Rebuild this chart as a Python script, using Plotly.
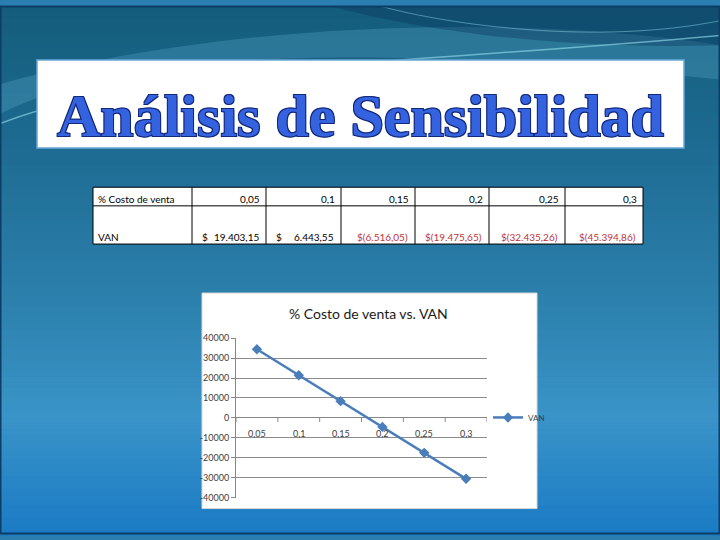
import plotly.graph_objects as go

# ---------------- data ----------------
costo_venta = ["0,05", "0,1", "0,15", "0,2", "0,25", "0,3"]
van_grafico = [34400, 21400, 8400, -4500, -17500, -30500]
van_tabla = ["$ 19.403,15", "$ 6.443,55", "$(6.516,05)", "$(19.475,65)", "$(32.435,26)", "$(45.394,86)"]
y_ticks = [40000, 30000, 20000, 10000, 0, -10000, -20000, -30000, -40000]

W, H = 720, 540


def px(x):
    return x / W


def py(y):
    return 1 - y / H


shapes = []
annotations = []

# ---------------- slide background (vertical gradient) ----------------
stops = [(0, (20, 92, 122)), (150, (30, 108, 148)), (300, (44, 128, 172)),
         (420, (58, 148, 200)), (540, (26, 122, 196))]


def col_at(y):
    for (y0, c0), (y1, c1) in zip(stops[:-1], stops[1:]):
        if y0 <= y <= y1:
            t = (y - y0) / (y1 - y0)
            return tuple(int(round(a + (b - a) * t)) for a, b in zip(c0, c1))
    return stops[-1][1]


step = 6
for y in range(0, H, step):
    c = col_at(y + step / 2)
    shapes.append(dict(type="rect", xref="paper", yref="paper", x0=0, x1=1,
                       y0=py(y + step + 0.5), y1=py(y), line_width=0,
                       fillcolor=f"rgb{c}", layer="below"))

# waves at the top
shapes.append(dict(type="path", xref="paper", yref="paper", layer="below", line_width=0,
                   fillcolor="rgba(120,200,230,0.22)",
                   path=f"M {px(0)} {py(110)} C {px(120)} {py(50)}, {px(330)} {py(35)}, {px(720)} {py(75)} "
                        f"L {px(720)} {py(40)} C {px(500)} {py(5)}, {px(200)} {py(20)}, {px(0)} {py(80)} Z"))
shapes.append(dict(type="path", xref="paper", yref="paper", layer="below", line_width=0,
                   fillcolor="rgba(10,50,90,0.35)",
                   path=f"M {px(330)} {py(0)} C {px(420)} {py(25)}, {px(560)} {py(45)}, {px(720)} {py(40)} "
                        f"L {px(720)} {py(0)} Z"))
shapes.append(dict(type="path", xref="paper", yref="paper", layer="below",
                   line=dict(color="rgba(150,225,240,0.6)", width=1.5),
                   path=f"M {px(0)} {py(120)} C {px(150)} {py(60)}, {px(400)} {py(60)}, {px(720)} {py(30)}"))
shapes.append(dict(type="path", xref="paper", yref="paper", layer="below",
                   line=dict(color="rgba(150,225,240,0.45)", width=1),
                   path=f"M {px(380)} {py(0)} C {px(450)} {py(20)}, {px(600)} {py(40)}, {px(720)} {py(15)}"))

# slide border
shapes.append(dict(type="rect", xref="paper", yref="paper", x0=px(0.5), x1=px(719.5), y0=py(538.5), y1=py(0.5),
                   line=dict(color="#0d3d66", width=2), fillcolor="rgba(0,0,0,0)", layer="below"))

# ---------------- title box ----------------
shapes.append(dict(type="rect", xref="paper", yref="paper", x0=px(37), x1=px(684), y0=py(145), y1=py(55),
                   fillcolor="white", line=dict(color="#6aa8d8", width=1.5), layer="below"))
annotations.append(dict(text="<b>Análisis de Sensibilidad</b>", xref="paper", yref="paper",
                        x=px(360), y=py(112), xanchor="center", yanchor="middle", showarrow=False,
                        font=dict(family="Liberation Serif", size=60, color="#3563e0",
                                  shadow="1px 1px 0 #12287a, -1px -1px 0 #12287a, 1px -1px 0 #12287a, -1px 1px 0 #12287a")))

# ---------------- table ----------------
col_edges = [93, 192, 266, 341, 415, 489, 565, 643]
row_edges = [185, 204, 243]
shapes.append(dict(type="rect", xref="paper", yref="paper", x0=px(col_edges[0]), x1=px(col_edges[-1]),
                   y0=py(row_edges[-1]), y1=py(row_edges[0]), fillcolor="white",
                   line=dict(color="black", width=1), layer="below"))
for xe in col_edges[1:-1]:
    shapes.append(dict(type="line", xref="paper", yref="paper", x0=px(xe), x1=px(xe),
                       y0=py(row_edges[-1]), y1=py(row_edges[0]), line=dict(color="black", width=1), layer="below"))
shapes.append(dict(type="line", xref="paper", yref="paper", x0=px(col_edges[0]), x1=px(col_edges[-1]),
                   y0=py(row_edges[1]), y1=py(row_edges[1]), line=dict(color="black", width=1), layer="below"))

FAM = "Lato, Liberation Sans, Arial"
tfont = dict(family=FAM, size=10, color="black")
annotations.append(dict(text="% Costo de venta", xref="paper", yref="paper", x=px(96), y=py(197),
                        xanchor="left", yanchor="middle", showarrow=False, font=tfont))
annotations.append(dict(text="VAN", xref="paper", yref="paper", x=px(96), y=py(236),
                        xanchor="left", yanchor="middle", showarrow=False, font=tfont))
for i, lab in enumerate(costo_venta):
    left, right = col_edges[i + 1], col_edges[i + 2]
    annotations.append(dict(text=lab, xref="paper", yref="paper", x=px(right - 4), y=py(197),
                            xanchor="right", yanchor="middle", showarrow=False, font=tfont))
    val = van_tabla[i]
    if "(" in val:
        f = dict(tfont, color="#c0343a")
        annotations.append(dict(text=val, xref="paper", yref="paper", x=px(right - 5), y=py(236),
                                xanchor="right", yanchor="middle", showarrow=False, font=f))
    else:
        annotations.append(dict(text="$", xref="paper", yref="paper", x=px(left + 8), y=py(236),
                                xanchor="left", yanchor="middle", showarrow=False, font=tfont))
        annotations.append(dict(text=val.replace("$", "").strip(), xref="paper", yref="paper",
                                x=px(right - 5), y=py(236), xanchor="right", yanchor="middle",
                                showarrow=False, font=tfont))

# ---------------- chart box ----------------
shapes.append(dict(type="rect", xref="paper", yref="paper", x0=px(202), x1=px(537), y0=py(513), y1=py(293),
                   fillcolor="white", line=dict(color="#d8d8d8", width=1), layer="below"))
annotations.append(dict(text="% Costo de venta vs. VAN", xref="paper", yref="paper", x=px(369), y=py(314),
                        xanchor="center", yanchor="middle", showarrow=False,
                        font=dict(family=FAM, size=14, color="#1a1a1a")))

# x category labels at the zero line
afont = dict(family=FAM, size=9, color="#404040")
for lab in costo_venta:
    annotations.append(dict(text=lab, xref="x", yref="y", x=lab, y=0, xanchor="center", yanchor="top",
                            yshift=-8, showarrow=False, font=afont))
# tick marks on the zero line between categories
for k in range(len(costo_venta) + 1):
    shapes.append(dict(type="line", xref="x", yref="y", x0=k - 0.5, x1=k - 0.5, ysizemode="pixel",
                       yanchor=0, y0=0, y1=-4, line=dict(color="#868686", width=1)))

fig = go.Figure()
fig.add_trace(go.Scatter(
    x=costo_venta, y=van_grafico, mode="lines+markers", name="VAN",
    line=dict(color="#4a7ebb", width=2.5),
    marker=dict(symbol="diamond", size=8, color="#4a7ebb"),
))

fig.update_layout(
    width=W, height=H,
    margin=dict(l=0, r=0, t=0, b=0),
    paper_bgcolor="#2a7fb0",
    plot_bgcolor="rgba(0,0,0,0)",
    shapes=shapes,
    annotations=annotations,
    showlegend=True,
    legend=dict(x=px(488), y=py(420), xanchor="left", yanchor="middle", bgcolor="rgba(0,0,0,0)",
                font=dict(family=FAM, size=8, color="#404040"),
                itemwidth=30),
    xaxis=dict(domain=[px(236), px(487)], range=[-0.5, 5.5], type="category",
               showticklabels=False, showgrid=False, zeroline=False, showline=False, ticks=""),
    yaxis=dict(domain=[py(502), py(339)], range=[-40000, 40000], tickvals=y_ticks,
               ticktext=[str(v) for v in y_ticks],
               showgrid=True, gridcolor="#8c8c8c", gridwidth=1,
               zeroline=True, zerolinecolor="#868686", zerolinewidth=1,
               showline=True, linecolor="#868686", linewidth=1, ticks="outside", ticklen=4,
               tickcolor="#868686", tickfont=afont),
)

fig.write_html("out.html", config={"displayModeBar": False},
               post_script="document.body.style.margin='0';document.body.style.overflow='hidden';")
